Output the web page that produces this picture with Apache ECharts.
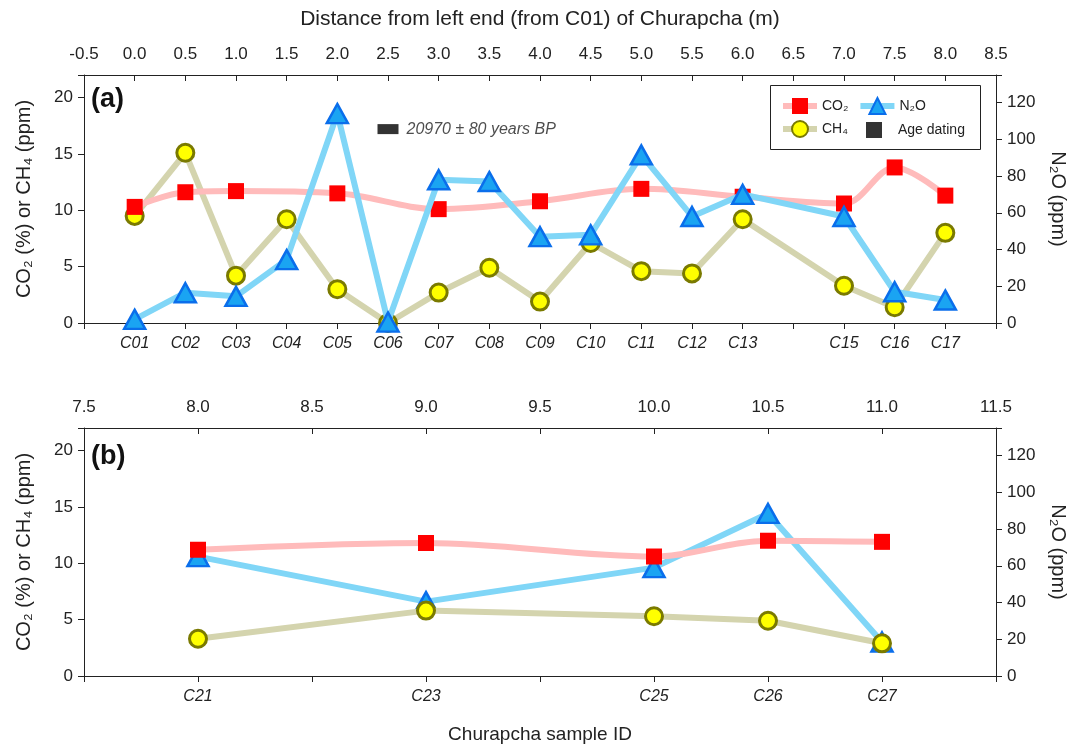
<!DOCTYPE html>
<html>
<head>
<meta charset="utf-8">
<script src="https://cdn.jsdelivr.net/npm/echarts@6/dist/echarts.min.js"></script>
<style>
  html, body { margin: 0; padding: 0; background: #fff; }
  #chart { width: 1070px; height: 746px; }
</style>
</head>
<body>
<div id="chart"></div>
<script>
// ---- Panel (a) data ----
const idsA  = ['C01','C02','C03','C04','C05','C06','C07','C08','C09','C10','C11','C12','C13','C15','C16','C17'];
const distA = [0.0, 0.5, 1.0, 1.5, 2.0, 2.5, 3.0, 3.5, 4.0, 4.5, 5.0, 5.5, 6.0, 7.0, 7.5, 8.0];
const co2A  = [10.3, 11.6, 11.7, null, 11.5, null, 10.1, null, 10.8, null, 11.9, null, 11.2, 10.6, 13.8, 11.3];
const ch4A  = [9.5, 15.1, 4.2, 9.2, 3.0, 0.0, 2.7, 4.9, 1.9, 7.1, 4.6, 4.4, 9.2, 3.3, 1.4, 8.0];
const n2oA  = [2, 16.5, 14.5, 34.5, 114, 0.5, 78, 77, 47, 48, 91.5, 58, 70, 58, 17, 12.5];

// ---- Panel (b) data ----
const idsB  = ['C21','C23','C25','C26','C27'];
const distB = [8.0, 9.0, 10.0, 10.5, 11.0];
const co2B  = [11.2, 11.8, 10.6, 12.0, 11.9];
const ch4B  = [3.3, 5.8, 5.3, 4.9, 2.9];
const n2oB  = [65, 40.5, 59, 88.5, 18.5];

// ---- Age dating annotation ----
const ageDist = [2.5];
const ageY    = [17.2];
const ageText = '20970 ± 80 years BP';

const FONT = 'Liberation Sans, Arial, sans-serif';

function pairs(xs, ys) {
  const out = [];
  xs.forEach((x, i) => { if (ys[i] !== null && ys[i] !== undefined) out.push([x, ys[i]]); });
  return out;
}
function lookup(ids, xs) {
  const m = {};
  xs.forEach((x, i) => { m[x.toFixed(1)] = ids[i]; });
  return m;
}
const lkA = lookup(idsA, distA);
const lkB = lookup(idsB, distB);

const chart = echarts.init(document.getElementById('chart'), null, { renderer: 'canvas' });

const axisLineStyle = { show: true, onZero: false, lineStyle: { color: '#222', width: 1 } };
const tickLbl = { fontFamily: FONT, fontSize: 17, color: '#222' };

function topX(grid, min, max, name) {
  return {
    type: 'value', gridIndex: grid, position: 'top', min: min, max: max, interval: 0.5,
    name: name || '', nameLocation: 'middle', nameGap: 45,
    nameTextStyle: { fontFamily: FONT, fontSize: 21, color: '#222' },
    axisLine: axisLineStyle, splitLine: { show: false },
    axisTick: { show: true, inside: true, length: 6, lineStyle: { color: '#222' } },
    axisLabel: Object.assign({ margin: 12, formatter: v => v.toFixed(1) }, tickLbl)
  };
}
function botX(grid, min, max, lk, name) {
  return {
    type: 'value', gridIndex: grid, position: 'bottom', min: min, max: max, interval: 0.5,
    name: name || '', nameLocation: 'middle', nameGap: 49,
    nameTextStyle: { fontFamily: FONT, fontSize: 19, color: '#222' },
    axisLine: axisLineStyle, splitLine: { show: false },
    axisTick: { show: true, inside: false, length: 6, lineStyle: { color: '#222' } },
    axisLabel: { margin: 13, fontFamily: FONT, fontSize: 16, fontStyle: 'italic', color: '#222',
                 formatter: v => lk[v.toFixed(1)] || '' }
  };
}
function leftY(grid) {
  return {
    type: 'value', gridIndex: grid, position: 'left', min: 0, max: 22, interval: 5,
    name: 'CO₂ (%) or CH₄ (ppm)', nameLocation: 'middle', nameGap: 50,
    nameTextStyle: { fontFamily: FONT, fontSize: 20, color: '#222' },
    axisLine: axisLineStyle, splitLine: { show: false },
    axisTick: { show: true, inside: false, length: 6, lineStyle: { color: '#222' } },
    axisLabel: Object.assign({ margin: 11, formatter: v => (v % 5 === 0 ? String(v) : '') }, tickLbl)
  };
}
function rightY(grid) {
  return {
    type: 'value', gridIndex: grid, position: 'right', min: 0, max: 135, interval: 20,
    name: 'N₂O (ppm)', nameLocation: 'middle', nameGap: 52, nameRotate: -90,
    nameTextStyle: { fontFamily: FONT, fontSize: 20, color: '#222' },
    axisLine: axisLineStyle, splitLine: { show: false },
    axisTick: { show: true, inside: false, length: 6, lineStyle: { color: '#222' } },
    axisLabel: Object.assign({ margin: 11, formatter: v => (v % 20 === 0 ? String(v) : '') }, tickLbl)
  };
}

const co2Style = {
  type: 'line', name: 'CO₂', smooth: 0.35, symbol: 'rect', symbolSize: 16,
  itemStyle: { color: '#FF0000' }, lineStyle: { color: '#FFBBBB', width: 6 }
};
const ch4Style = {
  type: 'line', name: 'CH₄', symbol: 'circle', symbolSize: 17,
  itemStyle: { color: '#FFFF00', borderColor: '#7A7A00', borderWidth: 3 },
  lineStyle: { color: '#D4D4AE', width: 6 }
};
const n2oStyle = {
  type: 'line', name: 'N₂O', symbol: 'triangle', symbolSize: [21, 19],
  itemStyle: { color: '#1AA4F2', borderColor: '#0A6EEB', borderWidth: 2.5 },
  lineStyle: { color: '#80D6F7', width: 6 }
};

const legendText = { fontFamily: FONT, fontSize: 14, color: '#222' };
const squareIcon = 'path://M0,0 L10,0 L10,10 L0,10 Z';

const option = {
  animation: false,
  backgroundColor: '#fff',
  textStyle: { fontFamily: FONT },
  grid: [
    { left: 84, right: 74, top: 75, height: 248, outerBoundsMode: 'none', containLabel: false },
    { left: 84, right: 74, top: 428, height: 248, outerBoundsMode: 'none', containLabel: false }
  ],
  xAxis: [
    topX(0, -0.5, 8.5, 'Distance from left end (from C01) of Churapcha (m)'),
    botX(0, -0.5, 8.5, lkA),
    topX(1, 7.5, 11.5),
    botX(1, 7.5, 11.5, lkB, 'Churapcha sample ID')
  ],
  yAxis: [leftY(0), rightY(0), leftY(1), rightY(1)],
  legend: [
    {
      left: 775, top: 92, orient: 'horizontal', itemWidth: 34, itemHeight: 20, itemGap: 9,
      data: ['CO₂', 'N₂O'], selectedMode: false, lineStyle: { width: 6 },
      textStyle: legendText
    },
    {
      left: 775, top: 115, orient: 'horizontal', itemWidth: 34, itemHeight: 20,
      data: ['CH₄'], selectedMode: false, lineStyle: { width: 6 },
      textStyle: legendText
    },
    {
      left: 861, top: 117, orient: 'horizontal', itemWidth: 38, itemHeight: 16,
      data: [{ name: 'Age dating', icon: squareIcon }], selectedMode: false,
      textStyle: legendText
    }
  ],
  graphic: [
    { type: 'rect', left: 768, top: 83, shape: { width: 210, height: 64 },
      style: { fill: 'none', stroke: '#222', lineWidth: 1 }, z: 100 },
    { type: 'text', left: 91, top: 86,
      style: { text: '(a)', font: 'bold 27px ' + FONT, fill: '#111' } },
    { type: 'text', left: 91, top: 443,
      style: { text: '(b)', font: 'bold 27px ' + FONT, fill: '#111' } }
  ],
  series: [
    Object.assign({}, ch4Style, { xAxisIndex: 1, yAxisIndex: 0, z: 2, data: pairs(distA, ch4A) }),
    Object.assign({}, co2Style, { xAxisIndex: 1, yAxisIndex: 0, z: 3, data: pairs(distA, co2A) }),
    Object.assign({}, n2oStyle, { xAxisIndex: 1, yAxisIndex: 1, z: 4, data: pairs(distA, n2oA) }),
    {
      type: 'scatter', name: 'Age dating', xAxisIndex: 0, yAxisIndex: 0, z: 5,
      symbol: 'rect', symbolSize: [21, 10], itemStyle: { color: '#000' },
      data: pairs(ageDist, ageY),
      label: { show: true, position: 'right', distance: 8, formatter: () => ageText,
               fontFamily: FONT, fontSize: 16, fontStyle: 'italic', color: '#222' }
    },
    Object.assign({}, n2oStyle, { xAxisIndex: 3, yAxisIndex: 3, z: 2, data: pairs(distB, n2oB) }),
    Object.assign({}, ch4Style, { xAxisIndex: 3, yAxisIndex: 2, z: 3, data: pairs(distB, ch4B) }),
    Object.assign({}, co2Style, { xAxisIndex: 3, yAxisIndex: 2, z: 4, data: pairs(distB, co2B) })
  ]
};
chart.setOption(option);
</script>
</body>
</html>
